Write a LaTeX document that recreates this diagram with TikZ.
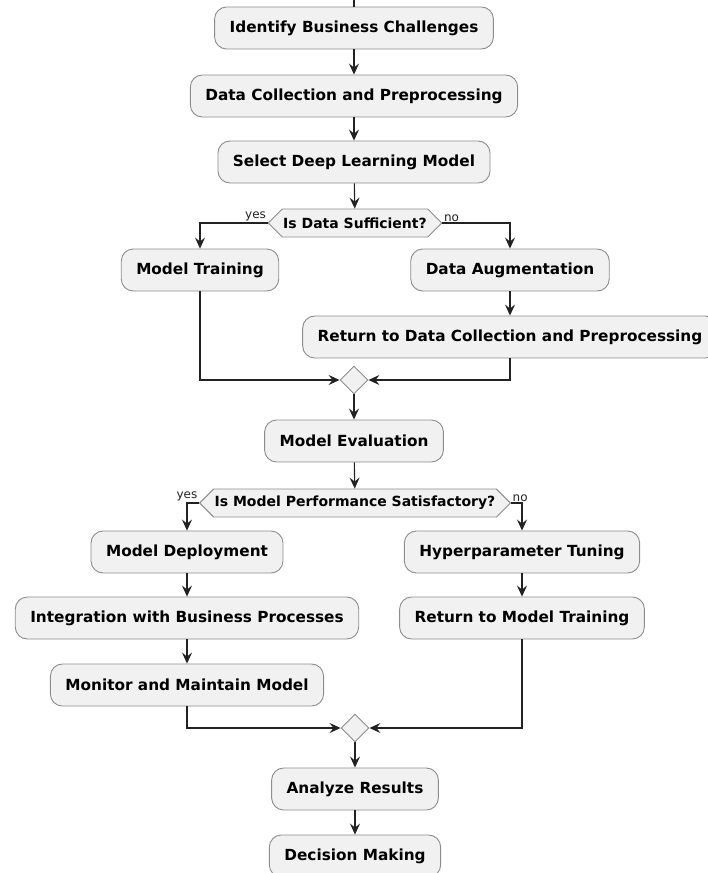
\documentclass[tikz,border=0pt]{standalone}
\usepackage{fontspec}
\setmainfont{DejaVu Sans}
\usetikzlibrary{arrows.meta,shapes.geometric,shapes.symbols}
\definecolor{StepFill}{HTML}{F1F1F1}
\definecolor{StepLine}{HTML}{8C8C8C}
\definecolor{FlowLine}{HTML}{222222}

\begin{document}
\begin{tikzpicture}[x=1pt, y=-1pt,
  action/.style={draw=StepLine, line width=0.9pt, rounded corners=12pt, fill=StepFill,
    font=\fontsize{15.3}{17}\selectfont\bfseries, inner xsep=15pt, minimum height=42pt},
  choice/.style={draw=StepLine, line width=0.9pt, fill=StepFill, signal, signal to=east and west,
    signal pointer angle=90, font=\fontsize{14}{16}\selectfont\bfseries,
    minimum height=28pt, inner xsep=1pt, inner ysep=0pt},
  merge/.style={draw=StepLine, line width=0.9pt, fill=StepFill, diamond,
    minimum size=28pt, inner sep=0pt},
  branch/.style={font=\fontsize{12}{14}\selectfont, text=FlowLine, inner sep=1.5pt},
  arrow/.style={-{Stealth[length=11pt, width=10pt, inset=4pt]}, line width=1.1pt, draw=FlowLine}
]
\useasboundingbox (0,0) rectangle (707,873);

\coordinate (start) at (354,0);
\node[action] (identify) at (354,28) {Identify Business Challenges};
\node[action] (collect) at (354,96) {Data Collection and Preprocessing};
\node[action] (select) at (354,162) {Select Deep Learning Model};
\node[choice] (enough) at (355,223) {Is Data Sufficient?};
\node[action] (train) at (200,270) {Model Training};
\node[action] (augment) at (510,270) {Data Augmentation};
\node[action] (backdata) at (510,337) {Return to Data Collection and Preprocessing};
\node[merge] (joinA) at (354,380) {};
\node[action] (evaluate) at (354,441) {Model Evaluation};
\node[choice] (goodfit) at (355,503) {Is Model Performance Satisfactory?};
\node[action] (deploy) at (187,552) {Model Deployment};
\node[action] (tune) at (522,552) {Hyperparameter Tuning};
\node[action] (integrate) at (187,618) {Integration with Business Processes};
\node[action] (backtrain) at (522,618) {Return to Model Training};
\node[action] (monitor) at (187,685) {Monitor and Maintain Model};
\node[merge] (joinB) at (355,728) {};
\node[action] (analyze) at (355,789) {Analyze Results};
\node[action] (decide) at (355,856) {Decision Making};

\node[branch, anchor=south east] (yesA) at (enough.west) {yes};
\node[branch, anchor=south west] (noA) at (enough.east) {no};
\node[branch, anchor=south east] (yesB) at (goodfit.west) {yes};
\node[branch, anchor=south west] (noB) at (goodfit.east) {no};

\draw[line width=1.1pt, draw=FlowLine] (start) -- (identify);
\draw[arrow] (identify) -- (collect);
\draw[arrow] (collect) -- (select);
\draw[arrow] (select) -- (enough);
\draw[arrow] (enough.west) -| (train.north);
\draw[arrow] (enough.east) -| (augment.north);
\draw[arrow] (augment) -- (backdata);
\draw[arrow] (train.south) |- (joinA.west);
\draw[arrow] (backdata.south) |- (joinA.east);
\draw[arrow] (joinA) -- (evaluate);
\draw[arrow] (evaluate) -- (goodfit);
\draw[arrow] (goodfit.west) -| (deploy.north);
\draw[arrow] (goodfit.east) -| (tune.north);
\draw[arrow] (deploy) -- (integrate);
\draw[arrow] (integrate) -- (monitor);
\draw[arrow] (tune) -- (backtrain);
\draw[arrow] (monitor.south) |- (joinB.west);
\draw[arrow] (backtrain.south) |- (joinB.east);
\draw[arrow] (joinB) -- (analyze);
\draw[arrow] (analyze) -- (decide);
\end{tikzpicture}
\end{document}
